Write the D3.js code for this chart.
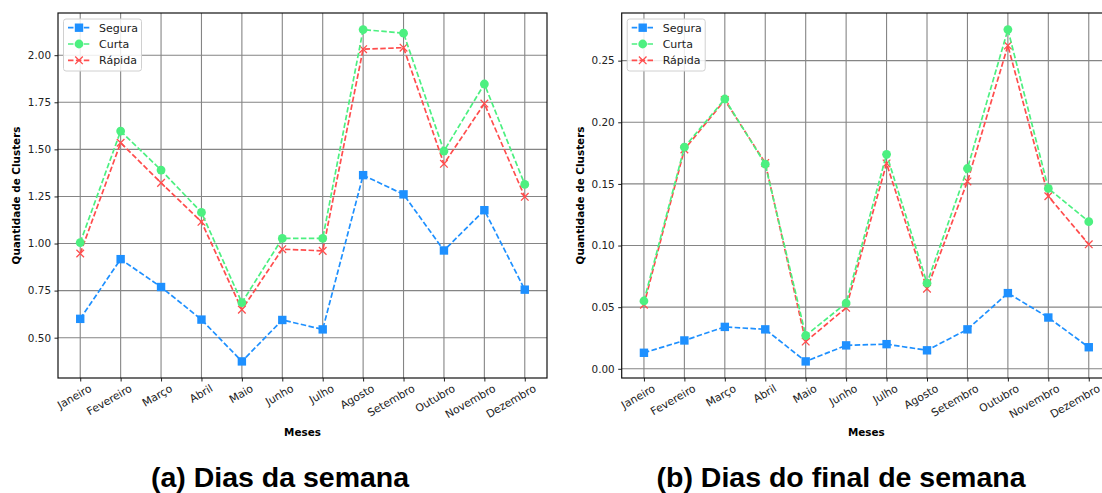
<!DOCTYPE html>
<html>
<head>
<meta charset="utf-8">
<script src="https://cdn.jsdelivr.net/npm/d3@7"></script>
<style>
  body { margin: 0; background: #fff; }
  svg { display: block; }
  text { font-family: "DejaVu Sans", sans-serif; }
</style>
</head>
<body>
<svg id="chart" width="1102" height="493"></svg>
<script>
// ---- data ----
const months = ["Janeiro","Fevereiro","Março","Abril","Maio","Junho","Julho","Agosto","Setembro","Outubro","Novembro","Dezembro"];
const seriesNames = ["Segura","Curta","Rápida"];

// (a) Dias da semana
const seguraA = [0.60, 0.917, 0.769, 0.596, 0.374, 0.594, 0.544, 1.363, 1.261, 0.963, 1.177, 0.755];
const curtaA  = [1.005, 1.597, 1.390, 1.165, 0.686, 1.027, 1.027, 2.136, 2.117, 1.491, 1.847, 1.314];
const rapidaA = [0.947, 1.535, 1.322, 1.115, 0.649, 0.970, 0.961, 2.032, 2.040, 1.423, 1.743, 1.248];
const ticksA  = [0.50, 0.75, 1.00, 1.25, 1.50, 1.75, 2.00];

// (b) Dias do final de semana
const seguraB = [0.013, 0.023, 0.034, 0.032, 0.006, 0.019, 0.020, 0.015, 0.032, 0.0614, 0.0416, 0.0175];
const curtaB  = [0.055, 0.1798, 0.2189, 0.166, 0.027, 0.0533, 0.174, 0.0695, 0.1625, 0.2752, 0.1463, 0.1194];
const rapidaB = [0.052, 0.178, 0.218, 0.167, 0.0221, 0.0495, 0.1666, 0.065, 0.152, 0.2622, 0.140, 0.101];
const ticksB  = [0.00, 0.05, 0.10, 0.15, 0.20, 0.25];

const colors = {"Segura": "#1E90FF", "Curta": "#4CF080", "Rápida": "#FF4D4D"};

const svg = d3.select("#chart");

function drawPanel(opts) {
  const {x0, x1, y0, y1, data, ticks, caption, capX, ylabX} = opts;
  const g = svg.append("g");
  const x = d3.scalePoint().domain(months).range([x0, x1]).padding(0.55);
  const all = [].concat(...seriesNames.map(n => data[n]));
  const mn = d3.min(all), mx = d3.max(all), pad = (mx - mn) * 0.05;
  const y = d3.scaleLinear().domain([mn - pad, mx + pad]).range([y1, y0]);

  // grid
  g.append("g").selectAll("line").data(months).join("line")
    .attr("x1", d => x(d)).attr("x2", d => x(d))
    .attr("y1", y0).attr("y2", y1)
    .attr("stroke", "#858585").attr("stroke-width", 1.1);
  g.append("g").selectAll("line").data(ticks).join("line")
    .attr("x1", x0).attr("x2", x1)
    .attr("y1", d => y(d)).attr("y2", d => y(d))
    .attr("stroke", "#858585").attr("stroke-width", 1.1);

  // axes
  const yAxis = d3.axisLeft(y).tickValues(ticks).tickFormat(d3.format(".2f")).tickSize(3.5).tickPadding(3.5);
  const ya = g.append("g").attr("transform", `translate(${x0},0)`).call(yAxis);
  ya.select(".domain").remove();
  ya.selectAll("text").attr("font-size", "10.4px").attr("fill", "#222").style("font-family", "DejaVu Sans");
  ya.selectAll("line").attr("stroke", "#222");

  const xAxis = d3.axisBottom(x).tickSize(3.5).tickPadding(3);
  const xa = g.append("g").attr("transform", `translate(0,${y1})`).call(xAxis);
  xa.select(".domain").remove();
  xa.selectAll("line").attr("stroke", "#222");
  xa.selectAll("text")
    .attr("font-size", "10.8px").attr("fill", "#222").style("font-family", "DejaVu Sans")
    .attr("text-anchor", "end")
    .attr("dy", "0.95em").attr("dx", "0.35em")
    .attr("transform", "rotate(-30)");

  // frame
  g.append("rect").attr("x", x0).attr("y", y0).attr("width", x1 - x0).attr("height", y1 - y0)
    .attr("fill", "none").attr("stroke", "#111").attr("stroke-width", 1.2);

  // lines
  const line = d3.line().x((d, i) => x(months[i])).y(d => y(d));
  const order = ["Segura", "Rápida", "Curta"];
  order.forEach(name => {
    const c = colors[name];
    const vals = data[name];
    g.append("path").datum(vals).attr("d", line)
      .attr("fill", "none").attr("stroke", c).attr("stroke-width", 1.7)
      .attr("stroke-dasharray", "5.5,2.4");
    drawMarkers(g, name, vals.map((v, i) => [x(months[i]), y(v)]), c);
  });

  // legend
  const lx = x0 + 5.5, ly = y0 + 6;
  const lg = g.append("g");
  lg.append("rect").attr("x", lx).attr("y", ly).attr("width", 78).attr("height", 52).attr("rx", 2.5)
    .attr("fill", "rgba(255,255,255,0.85)").attr("stroke", "#d0d0d0");
  seriesNames.forEach((name, i) => {
    const cy = ly + 8.7 + i * 16.3;
    const c = colors[name];
    lg.append("line").attr("x1", lx + 4.5).attr("x2", lx + 26.5).attr("y1", cy).attr("y2", cy)
      .attr("stroke", c).attr("stroke-width", 1.7).attr("stroke-dasharray", "5.5,2.4");
    drawMarkers(lg, name, [[lx + 15.5, cy]], c);
    lg.append("text").attr("x", lx + 35.5).attr("y", cy).attr("dy", "0.36em")
      .attr("font-size", "11px").attr("fill", "#222").text(name);
  });

  // axis titles
  g.append("text").attr("x", (x0 + x1) / 2).attr("y", 436)
    .attr("text-anchor", "middle").attr("font-size", "10.4px").attr("font-weight", "bold").text("Meses");
  g.append("text").attr("transform", `translate(${ylabX},${(y0 + y1) / 2}) rotate(-90)`)
    .attr("text-anchor", "middle").attr("font-size", "10.4px").attr("font-weight", "bold")
    .text("Quantidade de Clusters");

  // caption
  svg.append("text").attr("x", capX).attr("y", 487).attr("text-anchor", "middle")
    .style("font-family", "'Liberation Sans', Arial, sans-serif")
    .attr("font-size", "28.5px").attr("font-weight", "bold").attr("fill", "#000").text(caption);
}

function drawMarkers(g, name, pts, c) {
  if (name === "Segura") {
    g.append("g").selectAll("rect").data(pts).join("rect")
      .attr("x", d => d[0] - 4.2).attr("y", d => d[1] - 4.2).attr("width", 8.4).attr("height", 8.4)
      .attr("fill", c);
  } else if (name === "Curta") {
    g.append("g").selectAll("circle").data(pts).join("circle")
      .attr("cx", d => d[0]).attr("cy", d => d[1]).attr("r", 4.4).attr("fill", c);
  } else {
    g.append("g").selectAll("path").data(pts).join("path")
      .attr("d", d => `M${d[0]-3.8},${d[1]-3.8}L${d[0]+3.8},${d[1]+3.8}M${d[0]-3.8},${d[1]+3.8}L${d[0]+3.8},${d[1]-3.8}`)
      .attr("stroke", c).attr("stroke-width", 1.3).attr("fill", "none");
  }
}

drawPanel({x0: 58, x1: 547, y0: 13, y1: 378,
  data: {"Segura": seguraA, "Curta": curtaA, "Rápida": rapidaA},
  ticks: ticksA, caption: "(a) Dias da semana", capX: 280, ylabX: 20});
drawPanel({x0: 621.7, x1: 1111, y0: 13, y1: 378,
  data: {"Segura": seguraB, "Curta": curtaB, "Rápida": rapidaB},
  ticks: ticksB, caption: "(b) Dias do final de semana", capX: 841, ylabX: 584});
</script>
</body>
</html>
